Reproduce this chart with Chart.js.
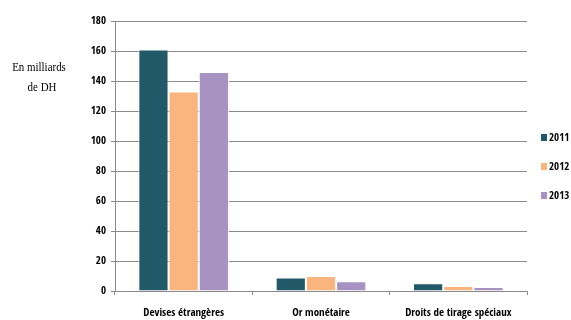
<!DOCTYPE html>
<html>
<head>
<meta charset="utf-8">
<script src="https://cdn.jsdelivr.net/npm/chart.js@4/dist/chart.umd.min.js"></script>
<style>
  html, body { margin: 0; padding: 0; background: #ffffff; }
  #wrap { width: 571px; height: 320px; position: relative; }
</style>
</head>
<body>
<div id="wrap"><canvas id="c"></canvas></div>
<script>
// Réserves internationales par composante, en milliards de DH
const categories = ['Devises étrangères', 'Or monétaire', 'Droits de tirage spéciaux'];
const years = ['2011', '2012', '2013'];
const values2011 = [161, 9, 5.1];
const values2012 = [133, 10, 3.4];
const values2013 = [146, 6.5, 2.6];
const yTicks = [0, 20, 40, 60, 80, 100, 120, 140, 160, 180];
const unitLines = ['En milliards', 'de DH'];

const colors = ['#215968', '#f9b57d', '#a792c1'];
const series = [values2011, values2012, values2013];

const condFamily = '"Open Sans Condensed", "Roboto Condensed", Carlito, sans-serif';
const condBold = { family: condFamily, weight: 'bold', size: 11 };

// Unit caption on the left and the legend on the right
const sideText = {
  id: 'sideText',
  afterDraw(chart) {
    const ctx = chart.ctx;
    ctx.save();
    ctx.fillStyle = '#000000';
    ctx.font = '13px "Liberation Serif", serif';
    ctx.textAlign = 'center';
    ctx.textBaseline = 'middle';
    ctx.save();
    ctx.scale(0.84, 1);
    ctx.fillText(unitLines[0], 39 / 0.84, 68);
    ctx.fillText(unitLines[1], 42 / 0.84, 88);
    ctx.restore();

    const area = chart.chartArea;
    ctx.font = 'bold 11px ' + condFamily;
    ctx.textAlign = 'left';
    chart.data.datasets.forEach((ds, i) => {
      const y = 138 + i * 29;
      ctx.fillStyle = ds.backgroundColor;
      ctx.fillRect(area.right + 14, y - 4, 6, 7);
      ctx.fillStyle = '#000000';
      ctx.fillText(ds.label, area.right + 22, y);
    });
    ctx.restore();
  }
};

new Chart(document.getElementById('c'), {
  type: 'bar',
  data: {
    labels: categories,
    datasets: years.map((y, i) => ({
      label: y,
      data: series[i],
      backgroundColor: colors[i],
      borderColor: 'rgba(255,255,255,0.9)',
      borderWidth: 1,
      categoryPercentage: 0.66,
      barPercentage: 1.0
    }))
  },
  options: {
    responsive: true,
    maintainAspectRatio: false,
    animation: false,
    layout: { padding: { left: 0, right: 44, top: 21, bottom: 0 } },
    plugins: {
      legend: { display: false },
      tooltip: { enabled: false }
    },
    scales: {
      x: {
        grid: { display: true, offset: true, drawOnChartArea: false, color: '#8a8a8a', tickLength: 4 },
        border: { display: true, color: '#8a8a8a' },
        ticks: { color: '#000000', font: condBold, padding: 12, maxRotation: 0 },
        afterFit(scale) { scale.height = 29; }
      },
      y: {
        min: 0,
        max: 180,
        afterBuildTicks(scale) { scale.ticks = yTicks.map(v => ({ value: v })); },
        grid: { color: '#8a8a8a', tickLength: 4 },
        border: { display: true, color: '#8a8a8a' },
        ticks: { color: '#000000', font: condBold, padding: 5 },
        afterFit(scale) { scale.width = 115; }
      }
    }
  },
  plugins: [sideText]
});
</script>
</body>
</html>
